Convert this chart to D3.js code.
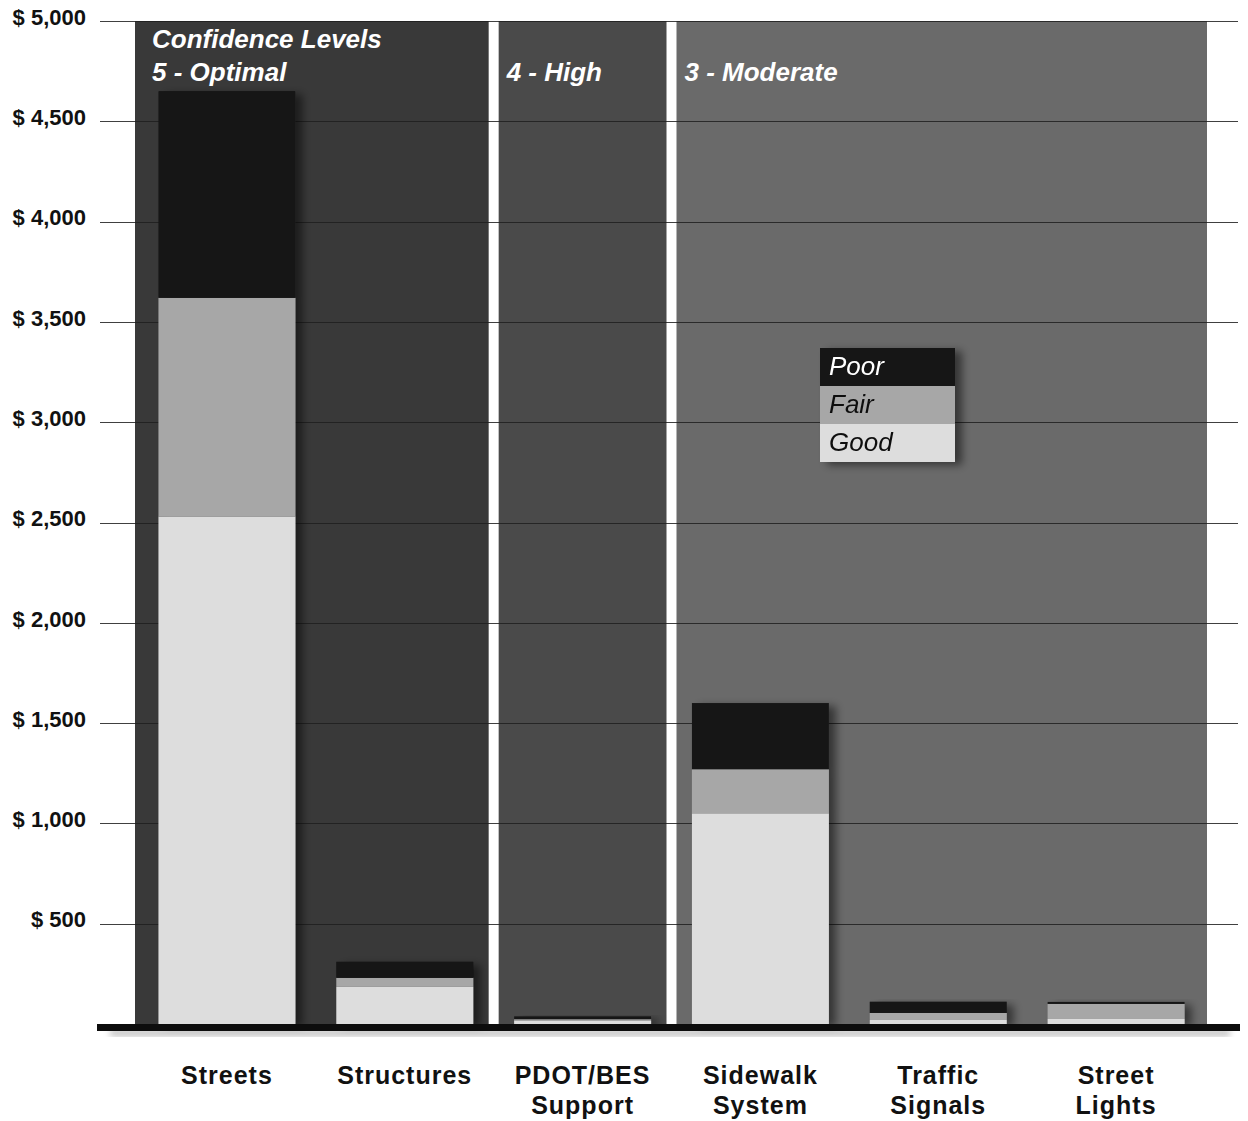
<!DOCTYPE html>
<html>
<head>
<meta charset="utf-8">
<script src="https://cdn.jsdelivr.net/npm/d3@7"></script>
<style>
  html, body { margin: 0; padding: 0; background: #fff; }
  svg { display: block; font-family: "Liberation Sans", Arial, sans-serif; }
</style>
</head>
<body>
<svg id="chart" width="1248" height="1121"></svg>
<script>
// data (values in $ millions)
const categories = ['Streets', 'Structures', 'PDOT/BES Support', 'Sidewalk System', 'Traffic Signals', 'Street Lights']
const labelLines = [['Streets'], ['Structures'], ['PDOT/BES', 'Support'], ['Sidewalk', 'System'], ['Traffic', 'Signals'], ['Street', 'Lights']]
const conditions = ['Good', 'Fair', 'Poor']
const good = [2530, 185, 18, 1050, 20, 25]
const fair = [1090, 45, 6, 220, 35, 75]
const poor = [1030, 80, 14, 330, 56, 10]
const yTicks = [500, 1000, 1500, 2000, 2500, 3000, 3500, 4000, 4500, 5000]

// confidence level groups
const groupNames = ['5 - Optimal', '4 - High', '3 - Moderate']
const groupStart = ['Streets', 'PDOT/BES Support', 'Sidewalk System']
const groupEnd = ['Structures', 'PDOT/BES Support', 'Street Lights']

const colors = { Good: '#dddddd', Fair: '#a7a7a7', Poor: '#151515' }
const panelColors = ['#393939', '#4a4a4a', '#6a6a6a']

//

const svg = d3.select('#chart')

const x = d3.scaleBand()
  .domain(categories)
  .range([138, 1205])
  .paddingInner(0.23)
  .paddingOuter(0.115)

const y = d3.scaleLinear()
  .domain([0, 5000])
  .range([1024, 21])

const defs = svg.append('defs')
const shadow = defs.append('filter')
  .attr('id', 'shadow')
  .attr('x', '-10%').attr('y', '-10%')
  .attr('width', '130%').attr('height', '130%')
shadow.append('feDropShadow')
  .attr('dx', 7).attr('dy', 3)
  .attr('stdDeviation', 4)
  .attr('flood-color', '#000')
  .attr('flood-opacity', 0.5)

const blur = defs.append('filter').attr('id', 'soft')
blur.append('feGaussianBlur').attr('stdDeviation', 3)

// panels (white gap between confidence levels)
const half = x.step() * x.paddingInner() / 2
const panelEdges = []
groupNames.forEach((g, i) => {
  let x0 = i === 0 ? 135 : x(groupStart[i]) - half
  let x1 = i === groupNames.length - 1 ? 1207 : x(groupEnd[i]) + x.bandwidth() + half
  if (i > 0) x0 += 5
  if (i < groupNames.length - 1) x1 -= 5
  panelEdges.push(x0)
  svg.append('rect')
    .attr('class', 'panel')
    .attr('x', x0)
    .attr('y', y(5000))
    .attr('width', x1 - x0)
    .attr('height', y(0) - y(5000))
    .attr('fill', panelColors[i])
})

// grid + y axis
const yAxis = d3.axisLeft(y)
  .tickValues(yTicks)
  .tickSize(0)
  .tickPadding(0)
  .tickFormat((d) => '$ ' + d3.format(',')(d))

const gY = svg.append('g')
  .attr('class', 'axis axis--y')
  .attr('transform', 'translate(86,1)')
  .call(yAxis)

gY.select('.domain').remove()
gY.selectAll('text')
  .attr('dy', '0.1em')
  .attr('fill', '#111')
  .style('font-size', '22px')
  .style('font-weight', 'bold')

svg.append('g')
  .attr('class', 'grid')
  .selectAll('line')
  .data(yTicks)
  .join('line')
  .attr('x1', 100)
  .attr('x2', 1238)
  .attr('y1', (d) => Math.round(y(d)) + 0.5)
  .attr('y2', (d) => Math.round(y(d)) + 0.5)
  .attr('stroke', '#1e1e1e')
  .attr('stroke-opacity', 0.85)
  .attr('stroke-width', 1.2)

// header labels
const header = svg.append('g').attr('class', 'headers')
  .attr('fill', '#fff')
  .style('font-size', '26px')
  .style('font-weight', 'bold')
  .style('font-style', 'italic')
header.append('text').attr('x', 152).attr('y', 48).text('Confidence Levels')
groupNames.forEach((g, i) => {
  const gx = i === 0 ? 152 : panelEdges[i] + 8
  header.append('text').attr('x', gx).attr('y', 81).text(g)
})

// stacked bars
const rows = categories.map((c, i) => ({ category: c, Good: good[i], Fair: fair[i], Poor: poor[i] }))
const stack = d3.stack().keys(conditions)(rows)

const bars = svg.append('g').attr('class', 'bars')
  .selectAll('g')
  .data(categories)
  .join('g')
  .attr('filter', 'url(#shadow)')

bars.each(function (c, i) {
  d3.select(this).selectAll('rect')
    .data(stack.map((s) => ({ key: s.key, d: s[i] })))
    .join('rect')
    .attr('x', x(c))
    .attr('width', x.bandwidth())
    .attr('y', (s) => y(s.d[1]))
    .attr('height', (s) => y(s.d[0]) - y(s.d[1]))
    .attr('fill', (s) => colors[s.key])
})

// baseline with soft shadow under it
svg.append('rect')
  .attr('x', 110).attr('y', y(0) + 6)
  .attr('width', 1120).attr('height', 6)
  .attr('fill', '#bbb')
  .attr('filter', 'url(#soft)')
svg.append('line')
  .attr('x1', 97).attr('x2', 1240)
  .attr('y1', y(0) + 3.5).attr('y2', y(0) + 3.5)
  .attr('stroke', '#0d0d0d')
  .attr('stroke-width', 7)

// category labels
svg.append('g').attr('class', 'axis axis--x')
  .selectAll('text')
  .data(categories)
  .join('text')
  .attr('x', (c) => x(c) + x.bandwidth() / 2)
  .attr('y', 1084)
  .attr('text-anchor', 'middle')
  .attr('fill', '#111')
  .style('font-size', '25px')
  .style('font-weight', 'bold')
  .style('letter-spacing', '1px')
  .each(function (c, i) {
    d3.select(this).selectAll('tspan')
      .data(labelLines[i])
      .join('tspan')
      .attr('x', x(c) + x.bandwidth() / 2)
      .attr('dy', (d, j) => j === 0 ? 0 : 30)
      .text((d) => d)
  })

// legend
const legendRows = ['Poor', 'Fair', 'Good']
const legend = svg.append('g').attr('class', 'legend')
  .attr('transform', 'translate(820,348)')
  .attr('filter', 'url(#shadow)')
legend.selectAll('rect')
  .data(legendRows)
  .join('rect')
  .attr('x', 0)
  .attr('y', (d, i) => i * 38)
  .attr('width', 135)
  .attr('height', 38)
  .attr('fill', (d) => colors[d])
legend.selectAll('text')
  .data(legendRows)
  .join('text')
  .attr('x', 9)
  .attr('y', (d, i) => i * 38 + 27)
  .attr('fill', (d) => d === 'Poor' ? '#fff' : '#111')
  .style('font-size', '26px')
  .style('font-style', 'italic')
  .text((d) => d)
</script>
</body>
</html>
